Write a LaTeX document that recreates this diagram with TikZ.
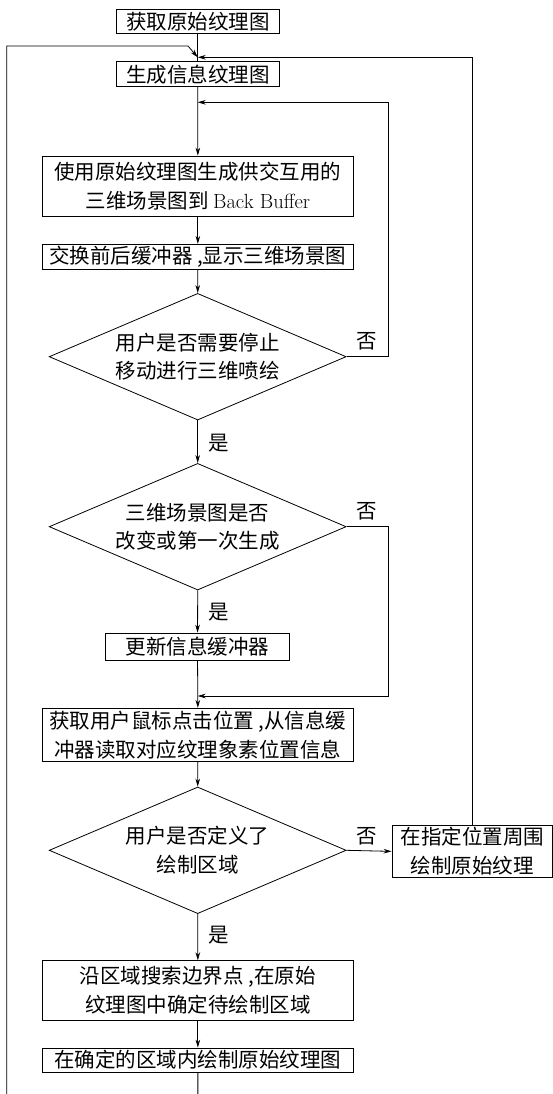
\documentclass[tikz,border=0pt]{standalone}
\usepackage{fontspec}
\newfontfamily\cjk{Noto Sans CJK SC}
\usetikzlibrary{shapes.geometric,arrows.meta}
\tikzset{
  every node/.style={font=\fontsize{20.5}{28.5}\selectfont\cjk, inner sep=0pt},
  box/.style={draw, line width=0.8pt, align=center},
  dia/.style={draw, line width=0.8pt, diamond, aspect=2.346, align=center,
              minimum width=297pt, minimum height=126.6pt},
  ar/.style={line width=0.8pt, -{Stealth[length=8pt,width=4.6pt]}},
  ln/.style={line width=0.8pt},
  lbl/.style={}
}
\begin{document}
\begin{tikzpicture}[x=1pt,y=-1pt]
\useasboundingbox (0,0) rectangle (553,1094);
\fill[white] (0,0) rectangle (553,1094);

\node[box, minimum width=162.5pt, minimum height=24pt] (b1) at (197.75,21.3) {获取原始纹理图};
\node[box, minimum width=162.5pt, minimum height=25pt] (b2) at (197.75,74.2) {生成信息纹理图};
\node[box, minimum width=311.1pt, minimum height=60.3pt] (b3) at (197.85,186.15)
  {使用原始纹理图生成供交互用的\\三维场景图到 {\rmfamily Back Buffer}};
\node[box, minimum width=311.1pt, minimum height=25pt] (b4) at (197.85,256.8) {交换前后缓冲器 ,显示三维场景图};
\node[dia] (d1) at (197.7,356.7) {用户是否需要停止\\移动进行三维喷绘};
\node[dia] (d2) at (197.7,526.7) {三维场景图是否\\改变或第一次生成};
\node[box, minimum width=183.5pt, minimum height=27.5pt] (b5) at (197.55,646.75) {更新信息缓冲器};
\node[box, minimum width=311.1pt, minimum height=53.4pt] (b6) at (197.85,735)
  {获取用户鼠标点击位置 ,从信息缓\\冲器读取对应纹理象素位置信息};
\node[dia] (d3) at (197.7,850.3) {用户是否定义了\\绘制区域};
\node[box, minimum width=160.6pt, minimum height=52.7pt] (b7) at (472.3,851.35)
  {在指定位置周围\\绘制原始纹理};
\node[box, minimum width=311.1pt, minimum height=59.3pt] (b8) at (197.85,990.35)
  {沿区域搜索边界点 ,在原始\\纹理图中确定待绘制区域};
\node[box, minimum width=311.1pt, minimum height=24pt] (b9) at (197.85,1060) {在确定的区域内绘制原始纹理图};

\node[lbl] (n1) at (366.8,341.7) {否};
\node[lbl] (n2) at (366.8,511.7) {否};
\node[lbl] (n3) at (366.8,836) {否};
\node[lbl] (y1) at (218.7,443.3) {是};
\node[lbl] (y2) at (218.7,611.7) {是};
\node[lbl] (y3) at (218.7,935) {是};

\coordinate (j1) at (197.7,57.3);
\coordinate (j2) at (197.7,102.3);
\coordinate (j3) at (197.7,696);

% main flow
\draw[ln] (b1.south) -- (b2.north);
\draw[ar] (b2.south) -- (b3.north);
\draw[ar] (b3.south) -- (b4.north);
\draw[ar] (b4.south) -- (d1.north);
\draw[ar] (d1.south) -- (d2.north);
\draw[ar] (d2.south) -- (b5.north);
\draw[ar] (b5.south) -- (b6.north);
\draw[ar] (b6.south) -- (d3.north);
\draw[ar] (d3.south) -- (b8.north);
\draw[ar] (b8.south) -- (b9.north);
\draw[ar] (d3.east) -- (b7.west);

% loops
\draw[ar] (d1.east) -| (388.4,102.3) -- (j2);
\draw[ar] (d2.east) -| (388.4,696) -- (j3);
\draw[ar] (b7.north) |- (j1);
\begin{scope}
\clip (0,0) rectangle (553,1094);
\draw[ar] (b9.south) -- ++(0,40) -| (6.7,46) -- (188,46) -- (j1);
\end{scope}
\end{tikzpicture}
\end{document}
